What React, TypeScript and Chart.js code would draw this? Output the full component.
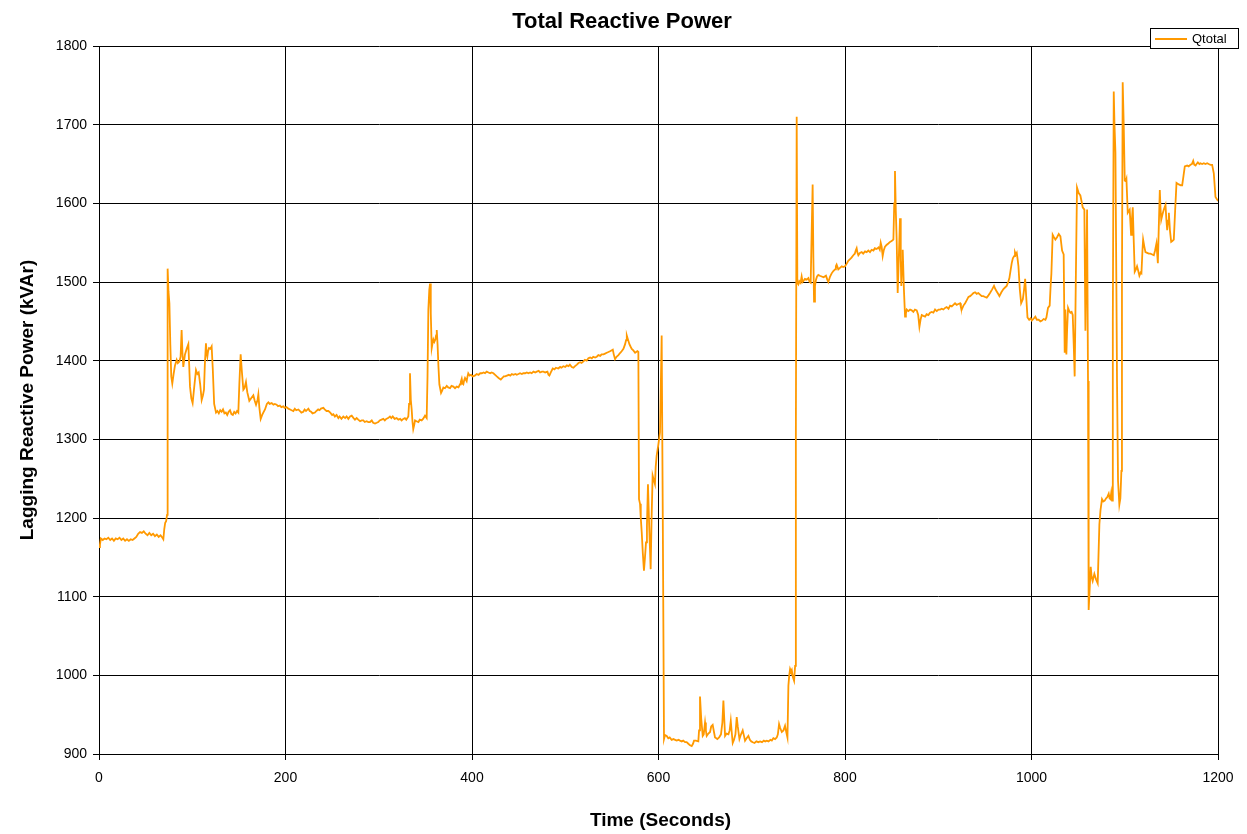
import React, { useEffect, useRef } from "react";
import { Chart, registerables } from "chart.js";

Chart.register(...registerables);

const chartTitle = "Total Reactive Power";
const xAxisTitle = "Time (Seconds)";
const yAxisTitle = "Lagging Reactive Power (kVAr)";
const seriesName = "Qtotal";

const xTickValues = [0, 200, 400, 600, 800, 1000, 1200];
const yTickValues = [900, 1000, 1100, 1200, 1300, 1400, 1500, 1600, 1700, 1800];

const timeSec = [
  0, 1, 2, 4, 6, 8, 10, 12, 14, 16, 18, 20, 22, 24, 26, 28, 30, 32, 34, 36, 38, 40, 42, 44, 46, 48, 50, 52, 54, 56, 58, 60, 62, 64, 66, 68, 69, 70, 71, 72, 73,
  73.6, 74.5, 75.5, 76.5, 77.5, 78.6, 80, 81.5, 83.3, 84.5, 86.2, 87.5, 88.6, 89.5, 90.4, 92.2, 94, 95.8, 96.7, 97.6, 99, 100.4, 102, 104, 105.5, 106.9, 108.5, 110.1, 111.5, 112.6, 113.5, 114.7, 115.4, 116.2, 117, 118, 119.5, 120.8, 122, 123.5, 125.5,
  127, 128.5, 130, 131.5, 133, 134.5, 136, 137.5, 139, 140.5, 142, 143.5, 145, 146.5, 148, 149.4, 150.5, 151.9, 153.3, 154.8, 156, 157.6, 159, 161.2, 163, 165.5, 167, 168.4, 170, 170.9, 172, 173.4, 175, 176.2, 178, 180, 181.6,
  183, 185.2, 187, 188.5, 190.5, 192, 194, 195.5, 197.7, 199, 201, 203, 205, 206.5, 208.4, 210, 211.5, 213.8, 215.5, 217, 219.1, 220.5, 222, 224.5, 226, 227.5, 229, 231.6, 233, 235, 236.5, 238, 240.6, 242, 244, 246, 248, 250, 251.3,
  253, 254.8, 256.7, 258, 260, 262, 264, 265.5, 267.4, 269.2, 271, 273, 274.5, 276.3, 278, 280, 281.7, 283.5, 285, 287, 288.8, 290.6, 292.5, 294, 296, 297.8, 299.5, 301, 303, 304.9, 306.5, 308, 310, 312, 313.5, 315, 317, 319.2,
  321, 323, 324.5, 326.3, 328, 329.5, 331.7, 332.5, 333.5, 334.4, 335.3, 336.2, 337, 338, 338.9, 340.5, 342.5, 344, 346, 347.5, 349.6, 351.4, 352.3, 353.2, 354.2, 355, 355.8, 356.8, 357.7, 358.6, 359.6, 360.7, 361.5, 362.2, 363.1, 364, 365,
  366.8, 368, 369.3, 371, 372.9, 374.5, 376.5, 378, 380, 381.8, 383.6, 385.5, 387.2, 388, 389, 389.8, 390.7, 391.6, 392.5, 393.4, 394.3, 395.2, 396, 397.5, 399, 400.8, 403, 405, 407, 408.8, 410.5, 412.5, 414, 415.8, 417.6, 419.5,
  421, 423, 424.8, 426.6, 428.5, 430.9, 432.5, 434, 435.5, 437.5, 439.5, 441, 442.7, 444.5, 446.5, 448, 449.8, 451.5, 453.5, 455, 457, 458.8, 460.5, 462.3, 464, 466, 467.8, 469.5, 471.5, 473, 475, 476.6, 478.5, 480.9, 482, 483, 484.5,
  486.6, 488.5, 490, 492.5, 494.5, 496, 498, 500, 501.7, 503.5, 505, 507, 508.8, 510.5, 512.5, 514.2, 516, 517.5, 519.5, 521, 523, 524.8, 526.7, 528.5, 530, 532, 533.8, 535.5, 537.5, 539, 541, 542.7, 544.5, 546.3, 548, 549.5, 551,
  552, 553.4, 555, 557, 559, 560.5, 562.4, 564.2, 565.2, 566, 567, 568.8, 570, 571.3, 573, 574.9, 576, 577.4, 578.4, 579.1, 580.2, 581, 582, 583.2, 584.4, 585.5, 586.6, 587.6, 588.7, 590, 591.6, 592.6, 593.7, 595, 596.2, 597, 598,
  599.8, 601.6, 602.5, 603.4, 604.6, 605.9, 607, 608.8, 610.5, 612, 614.1, 616, 617.8, 619.5, 621.5, 623, 624.9, 626.5, 628.5, 630.2, 632, 633.8, 635.6, 637, 638.1, 640, 642.7, 643.5, 644.5, 645.8, 647.4, 648.5, 649.9, 650.8, 651.7,
  653.5, 655.3, 656.5, 658.1, 659.5, 660.6, 662, 663.1, 665, 667, 668.5, 669.6, 670.5, 671.4, 673, 675, 676.3, 677.5, 678.5, 679.6, 681, 682.5, 683.9, 685, 686.8, 688.5, 690.3, 691.5, 692.8, 694.5, 696.4, 698, 699.5, 701.1, 703,
  705, 707, 709, 711, 713, 714.5, 716.1, 718, 720, 721.5, 723.2, 725, 726.8, 728, 729.3, 730.5, 732.2, 734, 735.7, 737, 738.3, 739.3, 740.2, 741.1, 742, 742.9, 744, 745.4, 746.5, 747.3, 748.2, 748.9, 750, 751, 752.3, 753.5, 754.5,
  755.3, 757, 758.9, 760.7, 762, 763.2, 764.2, 765.3, 766.1, 766.8, 767.8, 768.9, 770, 771.4, 773, 775, 777, 779.6, 781, 782.1, 784, 785.7, 787.5, 789.3, 790.2, 791, 792.8, 794.6, 796.5, 798, 800, 801.7, 803.5, 805.4, 807, 808.9,
  810.5, 811.5, 812.5, 813.4, 814.3, 816, 817.9, 819.5, 821.5, 823.2, 825, 826.8, 828.6, 830.5, 832, 834, 836, 837.3, 838.3, 839.3, 840.4, 841.5, 842.9, 844.5, 846.5, 848.3, 850, 851.9, 852.8, 853.6, 854.5, 855.4, 856.5, 857.7, 859,
  859.8, 860.4, 861.2, 861.9, 863.2, 864.4, 865.3, 866.2, 868, 869.8, 871.5, 873.3, 875, 876.9, 878.5, 879.8, 881, 882.3, 884, 885.9, 887.5, 889.4, 891.2, 893, 894.8, 896.6, 898.4, 900.2, 902, 903.8, 905.5, 907.3, 909, 911, 912.7,
  914.5, 916.2, 918, 919.8, 921.6, 923.4, 924.3, 925.2, 927, 928.8, 930.6, 932.4, 934.2, 936, 937.7, 939.5, 941.2, 943, 944.8, 946.6, 948.4, 950.2, 952, 953.8, 955.5, 957.5, 959.8, 961.2, 962.7, 964.2, 965.6, 967.7, 969.9, 971.6,
  973.4, 975, 976.3, 977.6, 978.8, 980, 981.4, 982.3, 983.3, 984.2, 985, 986, 987.5, 988.9, 990.7, 992, 993.2, 994.4, 995.7, 997.5, 999, 1000.4, 1002, 1004.1, 1005.7, 1007.7, 1009.5, 1011.3, 1013, 1014.9, 1016, 1017.7, 1019.5,
  1020.5, 1021.3, 1022.7, 1024, 1025.6, 1027.4, 1029.2, 1031, 1032.8, 1034.5, 1035.6, 1036.3, 1037.4, 1038.2, 1039.2, 1040.5, 1041.7, 1043, 1044.2, 1045.3, 1046.3, 1047.5, 1048.8, 1050.6, 1052.4, 1053.6, 1054.9, 1056.7, 1057.8,
  1058.7, 1059.6, 1060.6, 1061.3, 1062.4, 1063.5, 1064.5, 1065.6, 1067.4, 1069.2, 1071, 1072.8, 1074, 1075.6, 1077, 1078.5, 1080, 1081, 1082.8, 1083.7, 1084.6, 1085.5, 1086.4, 1087.2, 1088.2, 1089, 1090, 1091, 1091.7, 1092.8,
  1094.2, 1095.3, 1096.4, 1097, 1097.8, 1098.9, 1100, 1101, 1101.8, 1103.2, 1104.2, 1105.3, 1106.8, 1107.7, 1108.6, 1109.7, 1110.7, 1112, 1113.2, 1114.5, 1115.7, 1117, 1117.9, 1119, 1119.7, 1121, 1122.2, 1124, 1125.8, 1127.5,
  1129.5, 1131.2, 1132.5, 1134, 1135.5, 1136.5, 1137.6, 1138.3, 1139.1, 1140.5, 1141.9, 1143.7, 1144.6, 1145.5, 1146.5, 1147.3, 1148.5, 1149.8, 1151, 1152.6, 1154, 1155.5, 1156.8, 1158, 1160, 1161.6, 1163, 1164.4, 1166.9, 1168.5,
  1170.5, 1172, 1173.4, 1174.5, 1175.9, 1177, 1178.4, 1180, 1181.2, 1183, 1184.8, 1186.5, 1188.4, 1190, 1192, 1193.7, 1195.5, 1197.3, 1199, 1200,
];

const qTotal = [
  1163, 1166, 1174, 1172, 1174, 1173, 1175, 1172, 1174, 1171, 1174, 1173, 1175, 1172, 1174, 1171, 1173, 1171, 1173, 1172, 1174, 1176, 1180, 1182, 1181, 1183, 1180, 1178, 1181, 1178, 1180, 1177, 1179, 1176, 1178, 1175, 1173, 1186, 1194, 1196, 1204,
  1517, 1488, 1473, 1420, 1380, 1371, 1383, 1394, 1401, 1397, 1399, 1405, 1439, 1410, 1392, 1408, 1415, 1421, 1395, 1367, 1352, 1346, 1365, 1388, 1383, 1385, 1370, 1350, 1356, 1363, 1395, 1422, 1410, 1405, 1412, 1416, 1415, 1418, 1390, 1345, 1334,
  1336, 1333, 1337, 1335, 1338, 1333, 1334, 1331, 1335, 1337, 1332, 1331, 1335, 1333, 1336, 1334, 1370, 1408, 1385, 1363, 1365, 1373, 1360, 1349, 1352, 1356, 1349, 1344, 1350, 1357, 1340, 1326, 1331, 1334, 1338, 1345, 1347,
  1345, 1346, 1344, 1345, 1344, 1342, 1343, 1341, 1342, 1340, 1341, 1339, 1338, 1337, 1336, 1339, 1337, 1338, 1336, 1334, 1335, 1338, 1336, 1339, 1336, 1335, 1333, 1334, 1336, 1338, 1337, 1339, 1340, 1338, 1336, 1336, 1334, 1331, 1332,
  1329, 1331, 1327, 1329, 1326, 1329, 1327, 1329, 1326, 1329, 1330, 1327, 1325, 1327, 1325, 1323, 1324, 1324, 1322, 1323, 1322, 1322, 1324, 1321, 1320, 1321, 1322, 1324, 1325, 1326, 1324, 1326, 1327, 1329, 1327, 1329, 1326, 1327,
  1325, 1326, 1324, 1326, 1327, 1325, 1329, 1345, 1384, 1350, 1338, 1322, 1313, 1318, 1324, 1323, 1322, 1325, 1324, 1326, 1330, 1327, 1380, 1465, 1490, 1498, 1460, 1416, 1422, 1427, 1424, 1427, 1432, 1439, 1420, 1393, 1370,
  1359, 1362, 1366, 1365, 1368, 1366, 1365, 1368, 1367, 1365, 1367, 1366, 1370, 1373, 1377, 1371, 1370, 1375, 1378, 1376, 1374, 1380, 1384, 1381, 1382, 1380, 1381, 1383, 1382, 1384, 1384, 1385, 1384, 1386, 1385, 1384,
  1385, 1384, 1382, 1380, 1378, 1376, 1378, 1380, 1380, 1381, 1382, 1381, 1383, 1382, 1383, 1382, 1383, 1384, 1383, 1384, 1384, 1385, 1384, 1385, 1384, 1386, 1385, 1386, 1387, 1385, 1386, 1386, 1385, 1386, 1382, 1381, 1385,
  1390, 1389, 1391, 1390, 1392, 1391, 1393, 1392, 1394, 1393, 1395, 1392, 1391, 1393, 1395, 1397, 1398, 1397, 1399, 1401, 1400, 1403, 1404, 1403, 1405, 1404, 1405, 1407, 1406, 1408, 1408, 1409, 1410, 1411, 1412, 1413, 1414,
  1408, 1402, 1405, 1407, 1410, 1412, 1415, 1421, 1426, 1432, 1428, 1421, 1418, 1415, 1413, 1410, 1411, 1412, 1411, 1224, 1218, 1200, 1182, 1155, 1133, 1150, 1169, 1190, 1243, 1190, 1135, 1200, 1254, 1248, 1243, 1265, 1279,
  1293, 1309, 1370, 1432, 1200, 919, 924, 923, 920, 921, 918, 919, 918, 917, 918, 917, 916, 917, 915, 915, 913, 911, 910, 913, 917, 917, 916, 930, 973, 945, 923, 925, 940, 930, 923,
  926, 928, 935, 937, 928, 921, 920, 919, 921, 925, 940, 968, 945, 923, 926, 925, 930, 942, 928, 914, 918, 925, 947, 935, 919, 925, 930, 924, 917, 920, 923, 918, 916, 915, 914,
  916, 915, 916, 915, 917, 916, 917, 916, 918, 917, 920, 919, 921, 925, 938, 933, 928, 930, 936, 928, 921, 987, 1000, 1008, 1005, 1007, 998, 993, 1012, 1300, 1710, 1499, 1497, 1501, 1499, 1507, 1500,
  1501, 1504, 1503, 1505, 1500, 1499, 1560, 1624, 1530, 1475, 1495, 1503, 1507, 1509, 1508, 1507, 1506, 1508, 1503, 1500, 1507, 1511, 1514, 1516, 1520, 1522, 1516, 1518, 1520, 1519, 1520, 1523, 1527, 1529, 1531, 1534,
  1536, 1540, 1543, 1537, 1534, 1537, 1538, 1536, 1539, 1538, 1540, 1538, 1541, 1540, 1543, 1542, 1544, 1541, 1550, 1545, 1533, 1540, 1545, 1547, 1549, 1551, 1552, 1554, 1600, 1641, 1590, 1554, 1486, 1530, 1581,
  1530, 1495, 1525, 1541, 1490, 1456, 1460, 1465, 1463, 1465, 1464, 1462, 1465, 1464, 1458, 1443, 1452, 1458, 1457, 1456, 1459, 1458, 1461, 1462, 1461, 1465, 1463, 1465, 1465, 1466, 1465, 1467, 1468, 1466, 1470,
  1469, 1471, 1473, 1471, 1472, 1473, 1468, 1465, 1470, 1473, 1477, 1481, 1482, 1484, 1486, 1487, 1485, 1486, 1484, 1482, 1482, 1481, 1480, 1483, 1486, 1490, 1495, 1491, 1488, 1485, 1482, 1487, 1491, 1493,
  1495, 1500, 1505, 1515, 1524, 1530, 1533, 1538, 1535, 1537, 1530, 1520, 1490, 1473, 1478, 1490, 1504, 1480, 1455, 1452, 1454, 1451, 1453, 1456, 1452, 1452, 1450, 1451, 1453, 1452, 1455, 1467, 1470,
  1495, 1510, 1560, 1557, 1554, 1557, 1561, 1558, 1540, 1535, 1410, 1465, 1408, 1440, 1467, 1463, 1461, 1462, 1458, 1420, 1380, 1500, 1620, 1613, 1610, 1603, 1595, 1592, 1438,
  1515, 1592, 1374, 1083, 1110, 1138, 1125, 1120, 1129, 1122, 1117, 1192, 1210, 1224, 1221, 1222, 1225, 1226, 1231, 1225, 1224, 1232, 1222, 1450, 1742, 1700, 1665, 1500, 1374, 1247,
  1217, 1225, 1260, 1500, 1754, 1700, 1629, 1628, 1631, 1588, 1590, 1592, 1560, 1580, 1595, 1550, 1513, 1516, 1520, 1514, 1508, 1512, 1511, 1540, 1554, 1545, 1538, 1537, 1536, 1536,
  1535, 1534, 1540, 1549, 1524, 1570, 1617, 1595, 1579, 1586, 1592, 1598, 1580, 1566, 1578, 1588, 1565, 1551, 1552, 1554, 1590, 1626, 1625, 1624, 1623, 1623, 1635, 1647, 1648, 1647,
  1649, 1650, 1654, 1649, 1648, 1650, 1652, 1650, 1651, 1650, 1651, 1650, 1651, 1650, 1649, 1649, 1638, 1608, 1605, 1603,
];

const FONT = "Arial, 'Liberation Sans', Helvetica, sans-serif";

const decorPlugin = {
  id: "decor",
  afterDraw(chart: any) {
    const ctx = chart.ctx;
    const area = chart.chartArea;
    ctx.save();
    ctx.fillStyle = "#000";
    // main title
    ctx.font = `bold 22px ${FONT}`;
    ctx.textAlign = "center";
    ctx.textBaseline = "alphabetic";
    ctx.fillText(chartTitle, 622, 28);
    // x title
    ctx.font = `bold 19px ${FONT}`;
    ctx.fillText(xAxisTitle, (area.left + area.right) / 2 + 2, 826);
    // y title
    ctx.save();
    ctx.translate(33, (area.top + area.bottom) / 2);
    ctx.rotate(-Math.PI / 2);
    ctx.fillText(yAxisTitle, 0, 0);
    ctx.restore();
    // legend
    const bx = 1150.5, by = 28.5, bw = 88, bh = 20;
    ctx.fillStyle = "#fff";
    ctx.fillRect(bx, by, bw, bh);
    ctx.strokeStyle = "#000";
    ctx.lineWidth = 1;
    ctx.strokeRect(bx, by, bw, bh);
    ctx.strokeStyle = "#FF9900";
    ctx.lineWidth = 2;
    ctx.beginPath();
    ctx.moveTo(1155, 39);
    ctx.lineTo(1187, 39);
    ctx.stroke();
    ctx.fillStyle = "#000";
    ctx.font = `13px ${FONT}`;
    ctx.textAlign = "left";
    ctx.textBaseline = "middle";
    ctx.fillText(seriesName, 1192, 39.5);
    ctx.restore();
  },
};

export default function App() {
  const canvasRef = useRef<HTMLCanvasElement | null>(null);

  useEffect(() => {
    document.body.style.margin = "0";
    const canvas = canvasRef.current;
    if (!canvas) return;
    const points = timeSec.map((t, i) => ({ x: t, y: qTotal[i] }));
    const chart = new Chart(canvas, {
      type: "line",
      data: {
        datasets: [
          {
            label: seriesName,
            data: points,
            borderColor: "#FF9900",
            backgroundColor: "#FF9900",
            borderWidth: 1.8,
            pointRadius: 0,
            tension: 0,
            fill: false,
          },
        ],
      },
      options: {
        responsive: false,
        animation: false,
        events: [],
        layout: { padding: { top: 46, right: 29, left: 0, bottom: 0 } },
        plugins: {
          legend: { display: false },
          title: { display: false },
          tooltip: { enabled: false },
        },
        scales: {
          x: {
            type: "linear",
            min: 0,
            max: 1200,
            afterBuildTicks: (scale: any) => {
              scale.ticks = xTickValues.map((v) => ({ value: v }));
            },
            afterFit: (scale: any) => {
              scale.height = 80;
            },
            ticks: {
              color: "#000",
              font: { family: FONT, size: 14 },
              padding: 10,
              maxRotation: 0,
              autoSkip: false,
              callback: (v: any) => String(v),
            },
            grid: { color: "#000", lineWidth: 1, tickLength: 6, drawTicks: true },
            border: { display: true, color: "#000", width: 1 },
          },
          y: {
            type: "linear",
            min: 900,
            max: 1800,
            afterBuildTicks: (scale: any) => {
              scale.ticks = yTickValues.map((v) => ({ value: v }));
            },
            afterFit: (scale: any) => {
              scale.width = 99;
            },
            ticks: {
              color: "#000",
              font: { family: FONT, size: 14 },
              padding: 6,
              autoSkip: false,
              callback: (v: any) => String(v),
            },
            grid: { color: "#000", lineWidth: 1, tickLength: 6, drawTicks: true },
            border: { display: true, color: "#000", width: 1 },
          },
        },
      },
      plugins: [decorPlugin],
    });
    return () => chart.destroy();
  }, []);

  return (
    <div style={{ position: "absolute", left: 0, top: 0, width: 1247, height: 834, background: "#fff" }}>
      <canvas ref={canvasRef} width={1247} height={834} style={{ display: "block", width: 1247, height: 834 }} />
    </div>
  );
}
